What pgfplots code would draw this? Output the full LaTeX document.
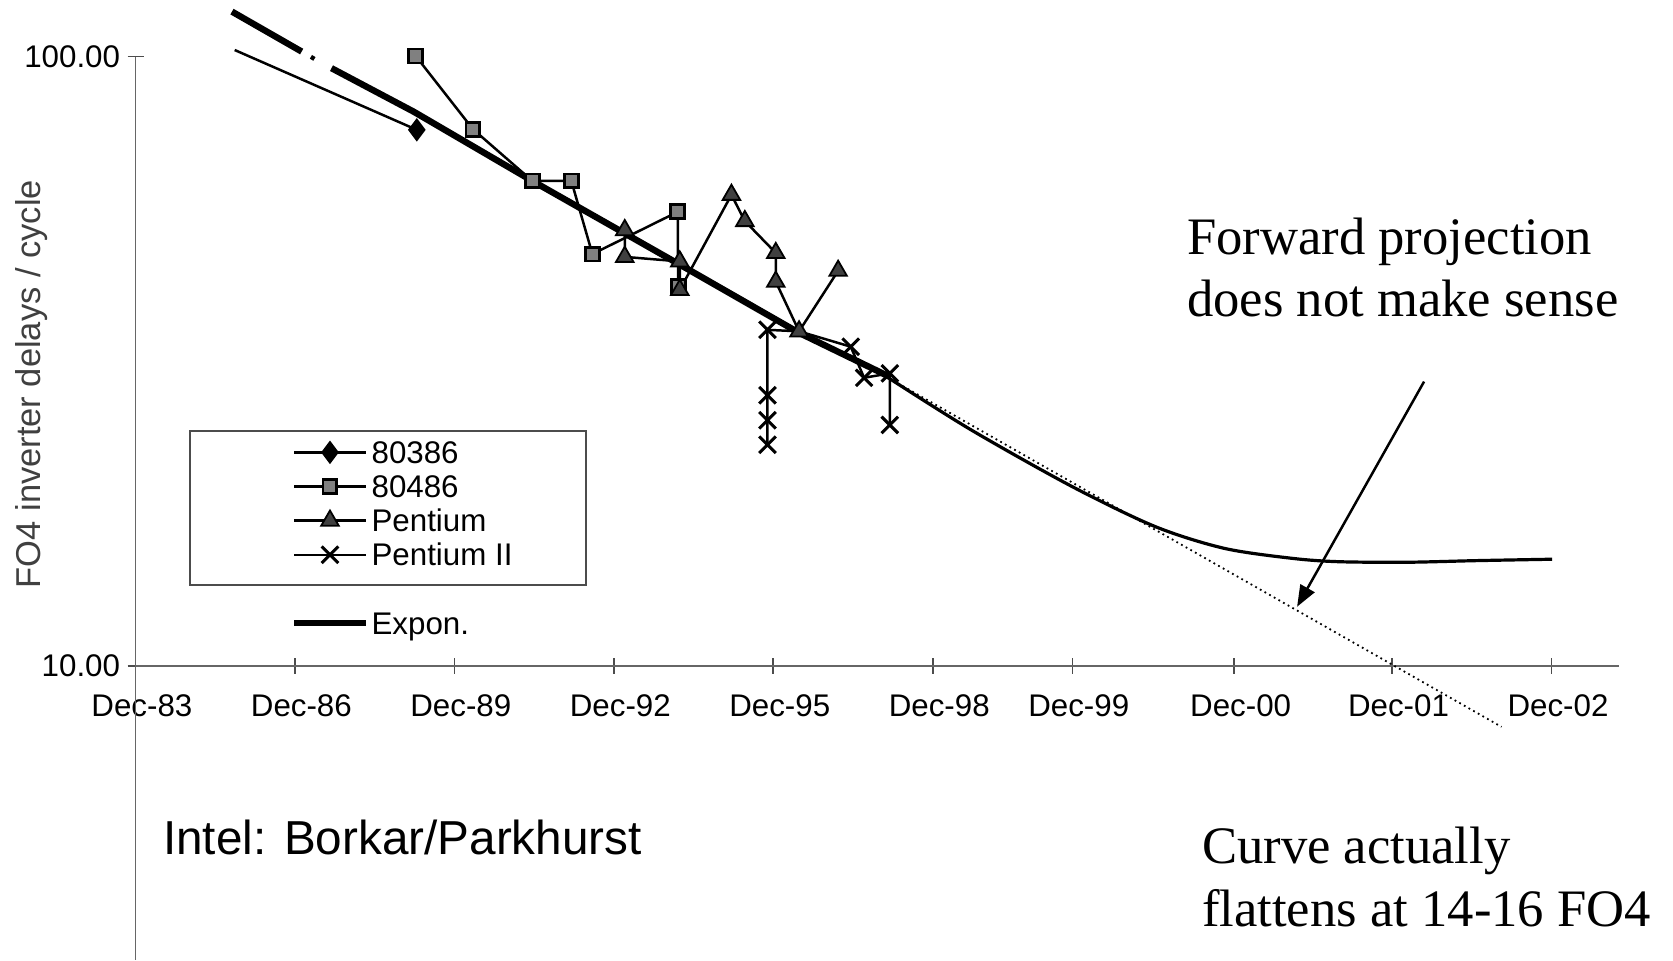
\documentclass[border=0pt]{standalone}
\usepackage{pgfplots}
\pgfplotsset{compat=1.18}
\usepackage{fontspec}
\setmainfont{Liberation Sans}
\newfontfamily\seriffont{Liberation Serif}
\usetikzlibrary{arrows.meta}

\pgfplotsset{
  s386/.style={black, line width=0.7pt, mark=diamond*, mark size=2.9pt, mark options={solid, fill=black, draw=black, line width=0.5pt}},
  s486/.style={black, line width=0.7pt, mark=square*, mark size=1.95pt, mark options={solid, fill=black!50, draw=black, line width=0.8pt}},
  spent/.style={black, line width=0.7pt, mark=triangle*, mark size=2.85pt, mark options={solid, fill=black!75, draw=black, line width=0.5pt}},
  spentii/.style={black, line width=0.7pt, mark=x, mark size=3.3pt, mark options={solid, line width=0.85pt}},
  sexpon/.style={black, line width=1.8pt, no markers},
}

\begin{document}
\begin{tikzpicture}
\useasboundingbox (-38.1pt,-82.8pt) rectangle (432.3pt,187.2pt);
\begin{axis}[
  scale only axis, width=417pt, height=171.3pt,
  xmin=0, xmax=9.3, ymode=log, ymin=10, ymax=100,
  clip=false,
  axis x line=bottom, axis y line=left,
  x axis line style={-, black!60, line width=0.5pt},
  y axis line style={-, black!60, line width=0.5pt},
  xtick={0,1,2,3,4,5,5.875,6.89,7.88,8.88},
  xticklabels={Dec-83,Dec-86,Dec-89,Dec-92,Dec-95,Dec-98,Dec-99,Dec-00,Dec-01,Dec-02},
  ytick={10,100}, yticklabels={10.00,100.00},
  yminorticks=false, xminorticks=false,
  tick align=center, major tick length=4.5pt,
  tick style={black!70, line width=0.5pt},
  tick label style={font=\fontsize{8.8}{10}\selectfont, inner sep=0pt},
  xticklabel style={anchor=north, yshift=-5.8pt, xshift=1.8pt},
  yticklabel style={anchor=east, xshift=-1.9pt},
  legend style={at={(axis description cs:0.105,0.3687)}, anchor=north west,
    draw=none, fill=none, inner sep=0pt, outer sep=0pt,
    row sep=3.3pt, column sep=0.8pt,
    font=\fontsize{8.8}{10}\selectfont,
    nodes={inner sep=0pt, text height=6.3pt, text depth=0pt}},
  legend cell align=left,
  legend image code/.code={\draw[mark repeat=2,mark phase=2,#1] plot coordinates {(0pt,0pt)(10pt,0pt)(20pt,0pt)};},
]
% 80386
\addplot[s386, mark indices={2}, forget plot] coordinates {
(0.622,102.5) (1.764,75.8)
};
% 80486
\addplot[s486, forget plot] coordinates {
(1.757,100.2) (2.116,76.0) (2.488,62.5) (2.733,62.5) (2.865,47.4) (3.400,55.6) (3.403,41.9)
};
% Pentium
\addplot[spent, forget plot] coordinates {
(3.068,51.9) (3.068,46.9) (3.413,46.1) (3.413,41.4) (3.737,59.3) (3.821,53.7) (4.015,47.6) (4.015,42.7) (4.161,35.4) (4.406,44.5)
};
% Pentium II
\addplot[spentii, mark indices={1,2,3,4,6,7,8,9}, forget plot] coordinates {
(3.963,23.05) (3.963,25.3) (3.963,27.8) (3.963,35.6) (4.161,35.4) (4.485,33.4) (4.569,29.7) (4.730,30.2) (4.730,24.85)
};
% Expon. trend (thick)
\addplot[sexpon, forget plot] coordinates {(0.605,118.5) (1.042,101.9)};
\addplot[black, line width=1.2pt, forget plot] coordinates {(1.100,99.9) (1.122,99.1)};
\addplot[sexpon, forget plot] coordinates {
(1.229,95.7) (1.744,81.2) (2.488,62.5) (3.455,44.9) (4.161,35.2) (4.730,29.8)
};
% actual curve (flattens)
\addplot[black, line width=0.9pt, smooth, forget plot] coordinates {
(4.725,29.65) (5.241,24.38) (5.875,19.68) (6.395,16.92) (6.826,15.59) (7.253,15.01) (7.545,14.82) (7.977,14.79) (8.409,14.88) (8.883,14.96)
};
% forward projection (dotted)
\addplot[black, line width=0.5pt, densely dotted, forget plot] coordinates {
(4.725,29.65) (8.566,7.94)
};
\addlegendimage{s386}
\addlegendentry{80386}
\addlegendimage{s486}
\addlegendentry{80486}
\addlegendimage{spent}
\addlegendentry{Pentium}
\addlegendimage{spentii}
\addlegendentry{Pentium II}
\addlegendimage{empty legend}
\addlegendentry{}
\addlegendimage{sexpon}
\addlegendentry{Expon.}
\end{axis}
% extension of the y axis below 10
\draw[black!60, line width=0.5pt] (0pt,0pt) -- (0pt,-82.8pt);
% legend frame
\draw[black!70, line width=0.5pt] (15.3pt,22.8pt) rectangle (126.6pt,66pt);
% y label
\node[rotate=90, inner sep=0pt, text=black!75, font=\fontsize{9.7}{11}\selectfont] at (-29.1pt,79.2pt) {FO4 inverter delays / cycle};
% annotations
\node[anchor=base west, inner sep=0pt, font=\seriffont\fontsize{14.8}{17}\selectfont] at (295.5pt,115.5pt) {Forward projection};
\node[anchor=base west, inner sep=0pt, font=\seriffont\fontsize{14.8}{17}\selectfont] at (295.5pt,98.2pt) {does not make sense};
\node[anchor=base west, inner sep=0pt, font=\seriffont\fontsize{14.8}{17}\selectfont] at (299.7pt,-55.5pt) {Curve actually};
\node[anchor=base west, inner sep=0pt, font=\seriffont\fontsize{14.8}{17}\selectfont] at (299.7pt,-73.35pt) {flattens at 14-16 FO4};
\node[anchor=base west, inner sep=0pt, font=\fontsize{13.4}{16}\selectfont] at (7.6pt,-53.2pt) {Intel: Borkar/Parkhurst};
\draw[black, line width=0.7pt, -{Triangle[length=6pt,width=4.5pt]}] (362.3pt,79.9pt) -- (326.6pt,16.6pt);
\end{tikzpicture}
\end{document}
